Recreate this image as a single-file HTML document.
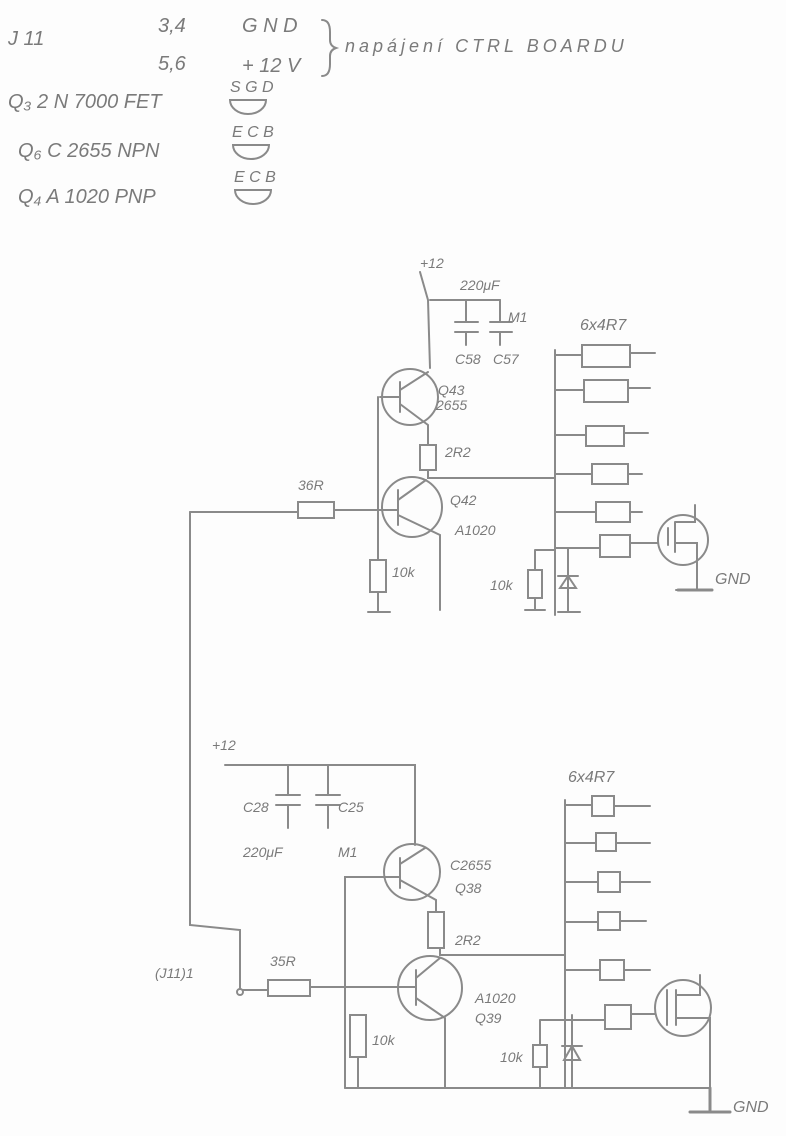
<!DOCTYPE html>
<html><head><meta charset="utf-8"><style>
html,body{margin:0;padding:0;background:#fdfdfd;}
svg{display:block}
text{font-family:"Liberation Sans",sans-serif;fill:#7a7a7a;font-style:italic}
</style></head><body>
<svg width="786" height="1136" viewBox="0 0 786 1136" xmlns="http://www.w3.org/2000/svg">
<g stroke="#8a8a8a" stroke-width="2" fill="none" stroke-linecap="round">
<path d="M322 20 q8 0 8 12 v8 q0 6 6 8 q-6 2 -6 8 v8 q0 12 -8 12"/>
<path d="M230 100 a18 14 0 0 0 36 0 z"/>
<path d="M233 145 a18 14 0 0 0 36 0 z"/>
<path d="M235 190 a18 14 0 0 0 36 0 z"/>

<path d="M420 272 L428 300 L430 368"/>
<path d="M430 300 H500"/>
<path d="M466 300 V322 M455 322 H478 M455 332 H478 M466 332 V345"/>
<path d="M500 300 V322 M490 322 H512 M490 332 H512 M500 332 V345"/>
<path d="M555 350 V615"/>
<g>
<path d="M555 355 H582 M582 345 h48 v22 h-48 z M630 353 H655"/>
<path d="M555 390 H584 M584 380 h44 v22 h-44 z M628 388 H650"/>
<path d="M555 435 H586 M586 426 h38 v20 h-38 z M624 433 H648"/>
<path d="M555 474 H592 M592 464 h36 v20 h-36 z M628 474 H642"/>
<path d="M555 512 H596 M596 502 h34 v20 h-34 z M630 512 H642"/>
<path d="M555 548 H600 M600 535 h30 v22 h-30 z M630 543 H658"/>
</g>
<circle cx="683" cy="540" r="25"/>
<path d="M668 528 V545 M675 522 V552 M675 522 H695 V505 M675 543 H697 V590 M676 590 H712"/>
<path d="M678 590 H712" stroke-width="3"/>
<circle cx="410" cy="397" r="28"/>
<path d="M400 382 V412 M400 390 L428 372 M400 404 L428 425 V445 M400 397 H380"/>
<path d="M420 445 h16 v25 h-16 z M428 470 V478 H555"/>
<circle cx="412" cy="507" r="30"/>
<path d="M398 490 V525 M398 500 L426 480 M398 515 L440 535 V610 M378 510 H398"/>
<path d="M378 397 V560"/>
<path d="M190 512 H298 M298 502 h36 v16 h-36 z M334 510 H378"/>
<path d="M370 560 h16 v32 h-16 z M378 592 V612 M368 612 H390"/>
<path d="M190 512 V925 L240 930 V988"/>
<path d="M535 550 H555 M535 550 V570 M528 570 h14 v28 h-14 z M535 598 V610 M525 610 H545"/>
<path d="M568 548 V612 M560 588 L576 588 L568 576 z M558 576 H578 M558 612 H580"/>

<path d="M225 765 H415 V845"/>
<path d="M288 765 V795 M276 795 H300 M276 805 H300 M288 805 V828"/>
<path d="M328 765 V795 M316 795 H340 M316 805 H340 M328 805 V828"/>
<circle cx="412" cy="872" r="28"/>
<path d="M400 858 V888 M400 864 L425 848 M400 880 L436 900 V912 M400 877 H345 V1088"/>
<path d="M428 912 h16 v36 h-16 z M440 948 V955 H565"/>
<circle cx="430" cy="988" r="32"/>
<path d="M416 970 V1005 M416 978 L440 958 M416 998 L445 1018 V1088 M400 987 H416"/>
<circle cx="240" cy="992" r="3"/>
<path d="M243 990 H268 M268 980 h42 v16 h-42 z M310 987 H400"/>
<path d="M350 1015 h16 v42 h-16 z M358 1057 V1088"/>
<path d="M345 1088 H710"/>
<path d="M565 800 V1088"/>
<path d="M565 805 H592 M592 796 h22 v20 h-22 z M614 806 H650"/>
<path d="M565 843 H596 M596 833 h20 v18 h-20 z M616 843 H650"/>
<path d="M565 882 H598 M598 872 h22 v20 h-22 z M620 882 H650"/>
<path d="M565 922 H598 M598 912 h22 v18 h-22 z M620 921 H646"/>
<path d="M565 970 H600 M600 960 h24 v20 h-24 z M624 970 H650"/>
<path d="M565 1020 H605 M605 1005 h26 v24 h-26 z M631 1014 H655"/>
<circle cx="683" cy="1008" r="28"/>
<path d="M667 990 V1025 M676 990 V1025 M676 995 H700 V975 M676 1018 H710 V1088"/>
<path d="M710 1088 V1110 M690 1112 H730" stroke-width="3"/>
<path d="M540 1020 H565 M540 1020 V1045 M533 1045 h14 v22 h-14 z M540 1067 V1088"/>
<path d="M572 1015 V1088 M564 1060 L580 1060 L572 1046 z M562 1046 H582"/>
</g>
<g font-size="20">
<text x="8" y="45">J 11</text>
<text x="158" y="32">3,4</text>
<text x="242" y="32">G N D</text>
<text x="158" y="70">5,6</text>
<text x="242" y="72">+ 12 V</text>
<text x="345" y="52" font-size="18" letter-spacing="4">napájení  CTRL  BOARDU</text>
<text x="8" y="108">Q₃ 2 N 7000  FET</text>
<text x="230" y="92" font-size="16">S G D</text>
<text x="18" y="157">Q₆  C 2655  NPN</text>
<text x="232" y="137" font-size="16">E C B</text>
<text x="18" y="203">Q₄  A 1020  PNP</text>
<text x="234" y="182" font-size="16">E C B</text>
</g>
<g font-size="14">
<text x="420" y="268">+12</text>
<text x="460" y="290">220μF</text>
<text x="508" y="322">M1</text>
<text x="455" y="364">C58</text>
<text x="493" y="364">C57</text>
<text x="580" y="330" font-size="16">6x4R7</text>
<text x="438" y="395">Q43</text>
<text x="436" y="410">2655</text>
<text x="445" y="457">2R2</text>
<text x="450" y="505">Q42</text>
<text x="455" y="535">A1020</text>
<text x="298" y="490">36R</text>
<text x="392" y="577">10k</text>
<text x="490" y="590">10k</text>
<text x="715" y="584" font-size="16">GND</text>
<text x="212" y="750">+12</text>
<text x="243" y="812">C28</text>
<text x="338" y="812">C25</text>
<text x="243" y="857">220μF</text>
<text x="338" y="857">M1</text>
<text x="450" y="870">C2655</text>
<text x="455" y="893">Q38</text>
<text x="455" y="945">2R2</text>
<text x="475" y="1003">A1020</text>
<text x="475" y="1023">Q39</text>
<text x="270" y="966">35R</text>
<text x="155" y="978">(J11)1</text>
<text x="372" y="1045">10k</text>
<text x="500" y="1062">10k</text>
<text x="568" y="782" font-size="16">6x4R7</text>
<text x="733" y="1112" font-size="16">GND</text>
</g>
</svg>
</body></html>
